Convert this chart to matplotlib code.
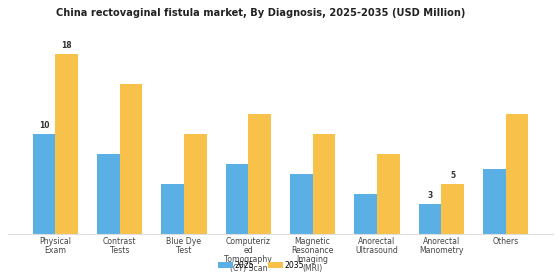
import matplotlib.pyplot as plt
import numpy as np

# Data
categories = ["Physical\nExam", "Contrast\nTests", "Blue Dye\nTest",
              "Computeriz\ned\nTomography\n(CT) Scan", "Magnetic\nResonance\nImaging\n(MRI)",
              "Anorectal\nUltrasound", "Anorectal\nManometry", "Others"]
values_2025 = [10, 8, 5, 7, 6, 4, 3, 6.5]
values_2035 = [18, 15, 10, 12, 10, 8, 5, 12]
labeled = [0, 6]  # groups with value labels

blue = "#5AB0E5"
yellow = "#F8C14A"

fig = plt.figure(figsize=(5.6, 2.8), dpi=100)
ax = fig.add_axes([8 / 560, 1 - 234 / 280, 545 / 560, 189 / 280])

x = np.arange(len(categories))
w = 0.35
ax.bar(x - w / 2, values_2025, w, color=blue, label="2025")
ax.bar(x + w / 2, values_2035, w, color=yellow, label="2035")

for i in labeled:
    ax.text(x[i] - w / 2, values_2025[i] + 0.4, f"{values_2025[i]:g}", ha="center", va="bottom",
            fontsize=5.5, fontweight="bold", color="#333333")
    ax.text(x[i] + w / 2, values_2035[i] + 0.4, f"{values_2035[i]:g}", ha="center", va="bottom",
            fontsize=5.5, fontweight="bold", color="#333333")

ax.set_ylim(0, 18.9)
ax.set_xticks(x)
ax.set_xticklabels(categories, fontsize=5.6, color="#444444", linespacing=1.0)
ax.tick_params(axis="x", length=0, pad=2.5)
ax.set_yticks([])
for s in ["top", "right", "left"]:
    ax.spines[s].set_visible(False)
ax.spines["bottom"].set_color("#dddddd")

fig.suptitle("China rectovaginal fistula market, By Diagnosis, 2025-2035 (USD Million)",
             fontsize=7.1, fontweight="bold", color="#222222", x=0.466, y=0.97)

ax.legend(loc="center", bbox_to_anchor=(253 / 545, -31 / 189), ncol=2, frameon=False,
          fontsize=5.6, handlelength=2.0, handleheight=0.8, handletextpad=0.2,
          columnspacing=1.7)

fig.savefig("out.png", dpi=100)
